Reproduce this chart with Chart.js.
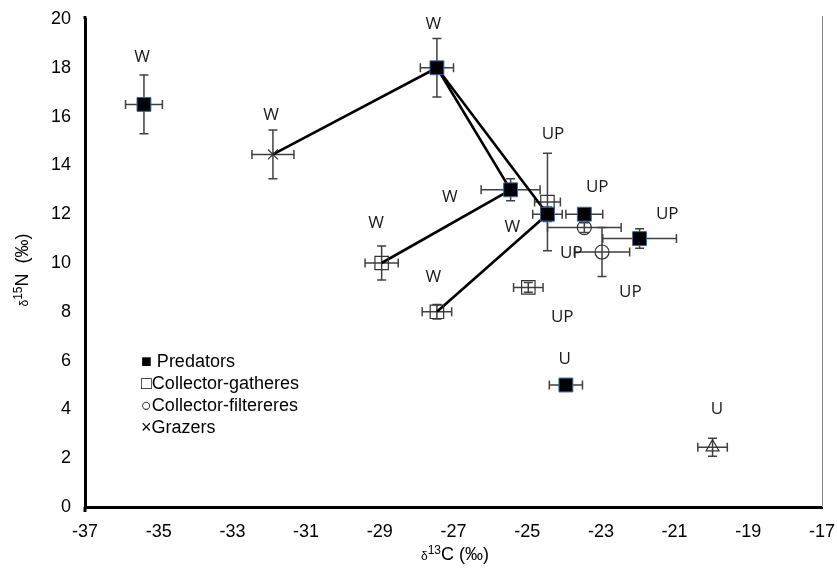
<!DOCTYPE html>
<html><head><meta charset="utf-8">
<script src="https://cdn.jsdelivr.net/npm/chart.js@4/dist/chart.umd.min.js"></script>
<style>html,body{margin:0;padding:0;background:#fff;}#wrap{width:837px;height:577px;}</style>
</head><body><div id="wrap"><canvas id="c" width="837" height="577"></canvas></div>
<script>
// Predators (filled squares)
const predX = [-35.4, -27.45, -25.45, -24.45, -23.45, -21.95, -23.95];
const predY = [16.5, 18.0, 13.0, 12.0, 12.0, 11.0, 5.0];
const predXErr = [0.5, 0.45, 0.8, 0.4, 0.5, 1.0, 0.45];
const predYErr = [1.2, 1.2, 0.45, 0.3, 0.2, 0.4, 0.2];
// Collector-gatherers (open squares)
const gathX = [-28.95, -27.45, -24.97, -24.45];
const gathY = [10.0, 8.0, 9.0, 12.5];
const gathXErr = [0.45, 0.4, 0.4, 0.35];
const gathYErr = [0.7, 0.3, 0.2, 2.0];
// Collector-filterers (open circles)
const filtX = [-23.45, -22.97];
const filtY = [11.45, 10.45];
const filtXErr = [1.0, 0.75];
const filtYErr = [0.2, 1.0];
// Grazers
const grazX = [-31.9];
const grazY = [14.45];
const grazXErr = [0.57];
const grazYErr = [1.0];
// Unlabelled triangle
const triX = [-19.97];
const triY = [2.45];
const triXErr = [0.4];
const triYErr = [0.37];
// Connecting lines (food web links)
const link1X = [-31.9, -27.45, -25.45];
const link1Y = [14.45, 18.0, 13.0];
const link2X = [-27.45, -24.45];
const link2Y = [18.0, 12.0];
const link3X = [-28.95, -25.45];
const link3Y = [10.0, 13.0];
const link4X = [-27.45, -24.45];
const link4Y = [8.0, 12.0];
// Site labels
const labelText = ["W","W","W","UP","W","UP","W","W","UP","UP","W","UP","UP","U","U"];
const labelX = [-35.45,-27.55,-31.95,-24.3,-27.1,-23.1,-29.1,-25.4,-21.2,-23.8,-27.55,-22.2,-24.05,-23.98,-19.85];
const labelY = [18.45,19.8,16.05,15.3,12.7,13.1,11.65,11.45,12.0,10.4,9.4,8.8,7.8,6.05,4.0];
// Axis ticks
const xTicks = [-37,-35,-33,-31,-29,-27,-25,-23,-21,-19,-17];
const yTicks = [0,2,4,6,8,10,12,14,16,18,20];
// Legend entries
const legendText = ["\u25A0 Predators","\u25A1Collector-gatheres","\u25CBCollector-filtereres","\u00D7Grazers"];

const pts = (xs, ys) => xs.map((x, i) => ({x: x, y: ys[i]}));

const errGroups = [
  [predX, predY, predXErr, predYErr],
  [gathX, gathY, gathXErr, gathYErr],
  [filtX, filtY, filtXErr, filtYErr],
  [grazX, grazY, grazXErr, grazYErr],
  [triX, triY, triXErr, triYErr]
];

const errorBars = {
  id: 'errorBars',
  beforeDatasetsDraw(chart) {
    const ctx = chart.ctx, xs = chart.scales.x, ys = chart.scales.y;
    const a = chart.chartArea;
    ctx.save();
    ctx.strokeStyle = '#8a8a8a';
    ctx.lineWidth = 1;
    ctx.beginPath(); ctx.moveTo(a.right + 0.5, a.top - 3); ctx.lineTo(a.right + 0.5, a.bottom); ctx.stroke();
    ctx.strokeStyle = '#404040';
    ctx.lineWidth = 1.5;
    const cap = 4.5;
    errGroups.forEach(g => {
      const [X, Y, XE, YE] = g;
      X.forEach((x, i) => {
        const px = xs.getPixelForValue(x), py = ys.getPixelForValue(Y[i]);
        const x1 = xs.getPixelForValue(x - XE[i]), x2 = xs.getPixelForValue(x + XE[i]);
        const y1 = ys.getPixelForValue(Y[i] - YE[i]), y2 = ys.getPixelForValue(Y[i] + YE[i]);
        ctx.beginPath();
        ctx.moveTo(x1, py); ctx.lineTo(x2, py);
        ctx.moveTo(x1, py - cap); ctx.lineTo(x1, py + cap);
        ctx.moveTo(x2, py - cap); ctx.lineTo(x2, py + cap);
        ctx.moveTo(px, y1); ctx.lineTo(px, y2);
        ctx.moveTo(px - cap, y1); ctx.lineTo(px + cap, y1);
        ctx.moveTo(px - cap, y2); ctx.lineTo(px + cap, y2);
        ctx.stroke();
      });
    });
    ctx.restore();
  }
};

const textPlugin = {
  id: 'textPlugin',
  afterDatasetsDraw(chart) {
    const ctx = chart.ctx, xs = chart.scales.x, ys = chart.scales.y;
    const a = chart.chartArea;
    ctx.save();
    ctx.fillStyle = '#1a1a1a';
    ctx.font = '17px "Open Sans", sans-serif';
    ctx.textAlign = 'center';
    ctx.textBaseline = 'middle';
    labelText.forEach((t, i) => {
      ctx.fillText(t, xs.getPixelForValue(labelX[i]), ys.getPixelForValue(labelY[i]));
    });
    ctx.fillStyle = '#000';
    ctx.font = '18px "Liberation Sans", Arial, sans-serif';
    ctx.textAlign = 'left';
    legendText.forEach((t, i) => {
      ctx.fillText(t, 141, 362 + i * 22);
    });
    ctx.strokeStyle = '#000';
    ctx.lineWidth = 3;
    ctx.beginPath(); ctx.moveTo(a.left, a.bottom); ctx.lineTo(a.left, a.bottom + 5); ctx.stroke();
    ctx.beginPath(); ctx.moveTo(a.left, a.top); ctx.lineTo(a.left, a.top - 3); ctx.stroke();
    ctx.fillStyle = '#000';
    ctx.textBaseline = 'alphabetic';
    const drawSup = (parts, x, y) => {
      let total = 0;
      parts.forEach(p => { ctx.font = p[1] + 'px "Liberation Sans", Arial, sans-serif'; total += ctx.measureText(p[0]).width; });
      let cx = x - total / 2;
      parts.forEach(p => {
        ctx.font = p[1] + 'px "Liberation Sans", Arial, sans-serif';
        ctx.fillText(p[0], cx, y + p[2]);
        cx += ctx.measureText(p[0]).width;
      });
    };
    ctx.textAlign = 'left';
    drawSup([["\u03B4", 12, 0], ["13", 12, -6], ["C (\u2030)", 18, 0]], 455, 560);
    ctx.save();
    ctx.translate(28, 270);
    ctx.rotate(-Math.PI / 2);
    drawSup([["\u03B4", 12, 0], ["15", 12, -6], ["N  (\u2030)", 18, 0]], 0, 0);
    ctx.restore();
    ctx.restore();
  }
};

const lineDs = (xs, ys) => ({
  type: 'line', data: pts(xs, ys), showLine: true, borderColor: '#000', borderWidth: 2.6,
  pointRadius: 0, fill: false, order: 10, tension: 0
});

new Chart(document.getElementById('c'), {
  type: 'scatter',
  data: {
    datasets: [
      { label: 'Predators', data: pts(predX, predY), pointStyle: 'rect', pointRadius: 9.8,
        backgroundColor: '#000', borderColor: '#3465b0', borderWidth: 1, order: 1 },
      { label: 'Collector-gatheres', data: pts(gathX, gathY), pointStyle: 'rect', pointRadius: 9.5,
        backgroundColor: 'rgba(0,0,0,0)', borderColor: '#333', borderWidth: 1.2, order: 2 },
      { label: 'Collector-filtereres', data: pts(filtX, filtY), pointStyle: 'circle', pointRadius: 7,
        backgroundColor: 'rgba(0,0,0,0)', borderColor: '#333', borderWidth: 1.2, order: 2 },
      { label: 'Grazers', data: pts(grazX, grazY), pointStyle: 'crossRot', pointRadius: 7,
        borderColor: '#333', borderWidth: 1.2, order: 2 },
      { label: 'Other', data: pts(triX, triY), pointStyle: 'triangle', pointRadius: 7.5,
        backgroundColor: 'rgba(0,0,0,0)', borderColor: '#333', borderWidth: 1.2, order: 2 },
      lineDs(link1X, link1Y),
      lineDs(link2X, link2Y),
      lineDs(link3X, link3Y),
      lineDs(link4X, link4Y)
    ]
  },
  options: {
    responsive: false,
    animation: false,
    devicePixelRatio: 1,
    layout: { padding: { left: 0, right: 15, top: 19, bottom: 0 } },
    plugins: { legend: { display: false }, tooltip: { enabled: false } },
    scales: {
      x: {
        type: 'linear', min: -37, max: -17,
        afterBuildTicks: s => { s.ticks = xTicks.map(v => ({value: v})); },
        afterFit: s => { s.height = 70; s.paddingLeft = 0; s.paddingRight = 0; },
        grid: { display: false, drawTicks: false },
        border: { display: true, color: '#000', width: 3 },
        ticks: { color: '#000', font: { family: '"Liberation Sans", Arial, sans-serif', size: 18 }, padding: 14, maxRotation: 0, autoSkip: false }
      },
      y: {
        type: 'linear', min: 0, max: 20,
        afterBuildTicks: s => { s.ticks = yTicks.map(v => ({value: v})); },
        afterFit: s => { s.width = 85; s.paddingTop = 0; s.paddingBottom = 0; },
        grid: { display: false, drawTicks: false },
        border: { display: true, color: '#000', width: 3 },
        ticks: { color: '#000', font: { family: '"Liberation Sans", Arial, sans-serif', size: 18 }, padding: 14, autoSkip: false }
      }
    }
  },
  plugins: [errorBars, textPlugin]
});
</script>
</body></html>
